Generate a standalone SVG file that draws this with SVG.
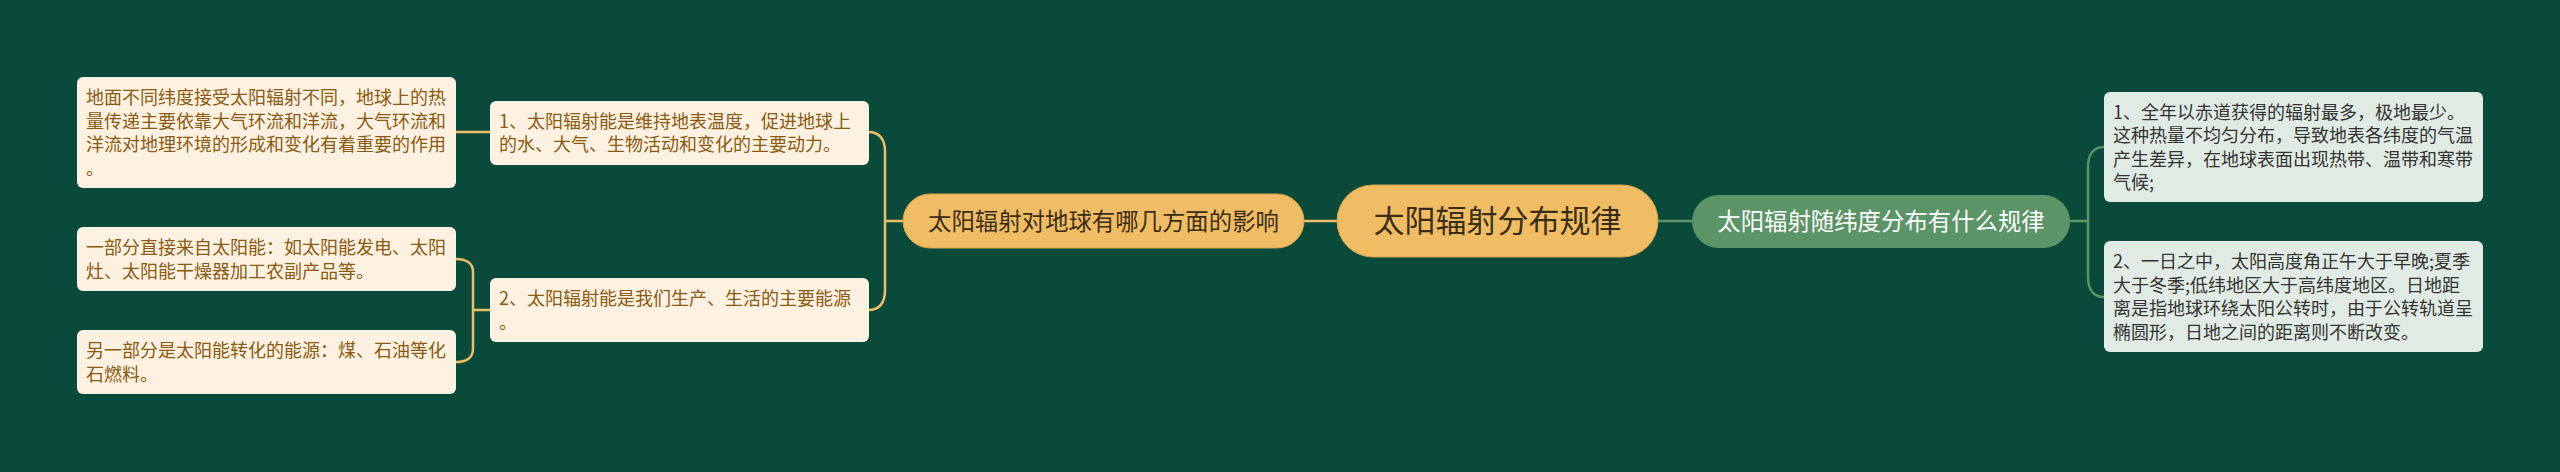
<svg xmlns="http://www.w3.org/2000/svg" width="2560" height="472" viewBox="0 0 2560 472">
<style>
text{font-family:"Noto Sans CJK SC","Noto Sans",sans-serif;}
.gold{fill:none;stroke:#efbd66;stroke-width:2.5;}
.green{fill:none;stroke:#5b9466;stroke-width:2.5;}
.leaf{fill:#fdf1e1;}
.leaft{font-size:18px;fill:#8a5a10;}
.rleaf{fill:#e0ece3;}
.rleaft{font-size:18px;fill:#333333;}
.pill{fill:#f0bc64;stroke:#d9a24a;stroke-width:1;}
.pillt{font-size:23.4px;fill:#3a2d16;text-anchor:middle;}
.roott{font-size:31px;fill:#3a2d16;text-anchor:middle;}
.gnode{fill:#5b9466;}
.gnodet{font-size:23.4px;fill:#ffffff;text-anchor:middle;}
</style>
<rect width="2560" height="472" fill="#0a4a3a"/>
<g id="connectors">
<path class="gold" d="M1304,221 H1337"/>
<path class="green" d="M1658,221 H1692"/>
<path class="gold" d="M868,132 C880,132 885,140 885,152 V290 C885,302 880,310 868,310 M885,221 H903"/>
<path class="gold" d="M456,132 H490"/>
<path class="gold" d="M456,259 C466,259 473,263 473,272 V349 C473,358 466,362 456,362 M473,310 H490"/>
<path class="green" d="M2104,147 C2093,147 2088,155 2088,167 V277 C2088,289 2093,297 2104,297 M2070,221 H2088"/>
</g>
<g id="root">
<rect class="pill" x="1337" y="185" width="321" height="72" rx="36"/>
<text class="roott" x="1497.5" y="232">太阳辐射分布规律</text>
</g>
<g id="n-influence">
<rect class="pill" x="903" y="194" width="401" height="54" rx="27"/>
<text class="pillt" x="1103.5" y="229.5">太阳辐射对地球有哪几方面的影响</text>
</g>
<g id="n-rule">
<rect class="gnode" x="1692" y="195" width="378" height="53" rx="26.5"/>
<text class="gnodet" x="1881" y="229.5">太阳辐射随纬度分布有什么规律</text>
</g>
<g id="n-1">
<rect class="leaf" x="490" y="101" width="379" height="64" rx="6"/>
<text class="leaft" x="499"><tspan x="499" y="127.5">1、太阳辐射能是维持地表温度，促进地球上</tspan><tspan x="499" y="151">的水、大气、生物活动和变化的主要动力。</tspan></text>
</g>
<g id="n-2">
<rect class="leaf" x="490" y="278" width="379" height="64" rx="6"/>
<text class="leaft"><tspan x="499" y="305">2、太阳辐射能是我们生产、生活的主要能源</tspan><tspan x="499" y="328.5">。</tspan></text>
</g>
<g id="leaf-1">
<rect class="leaf" x="77" y="77" width="379" height="111" rx="6"/>
<text class="leaft"><tspan x="86" y="104">地面不同纬度接受太阳辐射不同，地球上的热</tspan><tspan x="86" y="127.5">量传递主要依靠大气环流和洋流，大气环流和</tspan><tspan x="86" y="151">洋流对地理环境的形成和变化有着重要的作用</tspan><tspan x="86" y="174.5">。</tspan></text>
</g>
<g id="leaf-2">
<rect class="leaf" x="77" y="227" width="379" height="64" rx="6"/>
<text class="leaft"><tspan x="86" y="254">一部分直接来自太阳能：如太阳能发电、太阳</tspan><tspan x="86" y="277.5">灶、太阳能干燥器加工农副产品等。</tspan></text>
</g>
<g id="leaf-3">
<rect class="leaf" x="77" y="330" width="379" height="64" rx="6"/>
<text class="leaft"><tspan x="86" y="357">另一部分是太阳能转化的能源：煤、石油等化</tspan><tspan x="86" y="380.5">石燃料。</tspan></text>
</g>
<g id="rleaf-1">
<rect class="rleaf" x="2104" y="92" width="379" height="110" rx="6"/>
<text class="rleaft"><tspan x="2113" y="118.5">1、全年以赤道获得的辐射最多，极地最少。</tspan><tspan x="2113" y="142">这种热量不均匀分布，导致地表各纬度的气温</tspan><tspan x="2113" y="165.5">产生差异，在地球表面出现热带、温带和寒带</tspan><tspan x="2113" y="189">气候;</tspan></text>
</g>
<g id="rleaf-2">
<rect class="rleaf" x="2104" y="241" width="379" height="111" rx="6"/>
<text class="rleaft"><tspan x="2113" y="268">2、一日之中，太阳高度角正午大于早晚;夏季</tspan><tspan x="2113" y="291.5">大于冬季;低纬地区大于高纬度地区。日地距</tspan><tspan x="2113" y="315">离是指地球环绕太阳公转时，由于公转轨道呈</tspan><tspan x="2113" y="338.5">椭圆形，日地之间的距离则不断改变。</tspan></text>
</g>
</svg>
